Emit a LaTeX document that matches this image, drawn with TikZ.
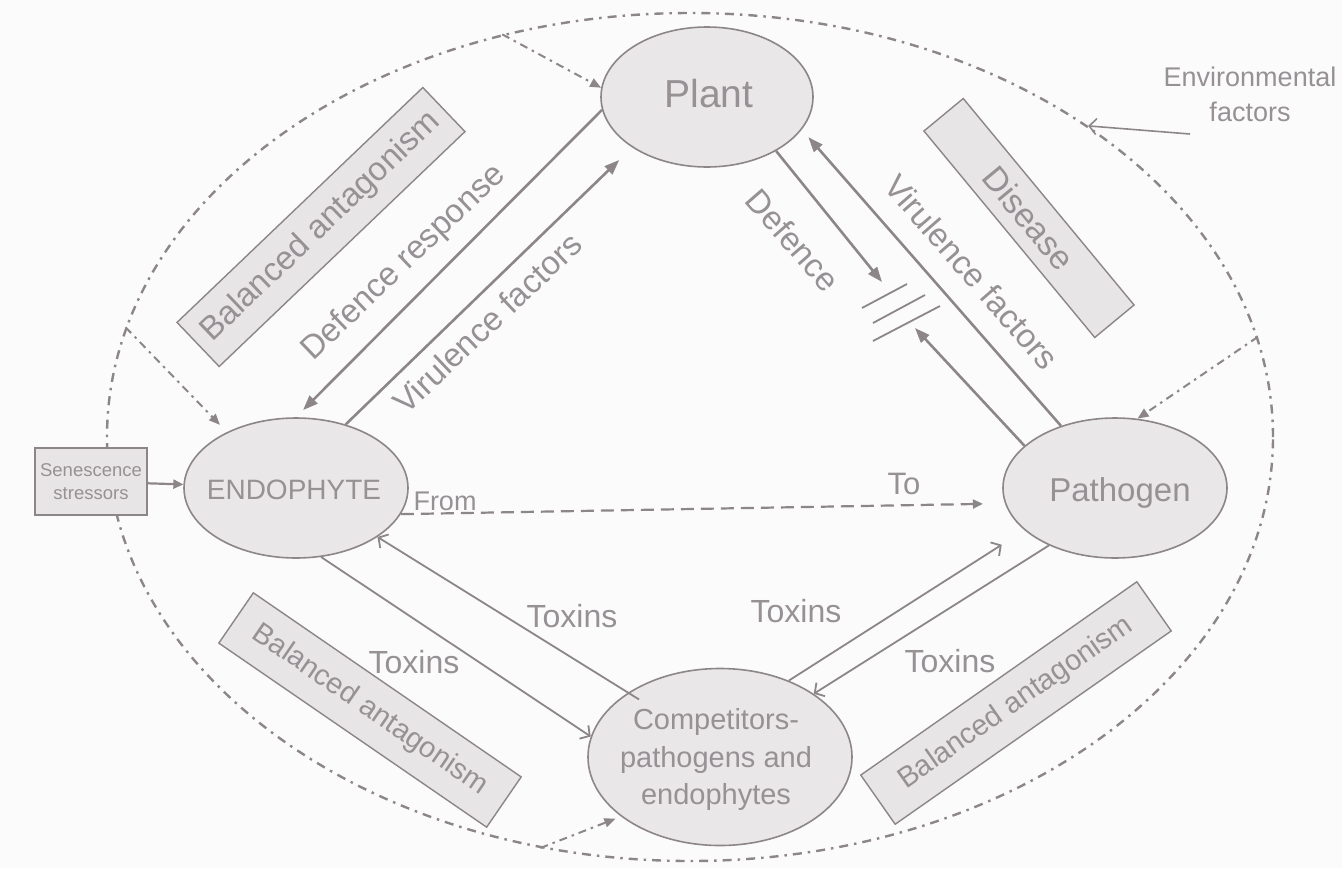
\documentclass[tikz,border=0pt]{standalone}
\usepackage{fontspec}
\setmainfont{Liberation Sans}
\usetikzlibrary{shapes.geometric,arrows.meta}
\definecolor{ink}{RGB}{140,134,137}
\definecolor{txt}{RGB}{150,145,148}
\definecolor{blobfill}{RGB}{233,231,232}
\definecolor{boxfill}{RGB}{231,229,230}
\definecolor{paper}{RGB}{252,251,252}
\newcommand{\fs}[1]{\fontsize{#1}{#1}\selectfont}

\begin{document}
\begin{tikzpicture}[x=1pt,y=-1pt,
  blob/.style={ellipse, draw=ink, fill=blobfill, line width=1.6pt, inner sep=0pt},
  tag/.style={draw=ink, fill=boxfill, line width=1.4pt, inner sep=0pt, text=txt},
  lab/.style={text=txt, inner sep=0pt},
  main/.style={draw=ink, line width=2.6pt, -{Triangle[length=15pt,width=11pt]}},
  tox/.style={draw=ink, line width=1.8pt, -{Straight Barb[length=7pt,width=16pt,line width=1.8pt]}},
  envline/.style={draw=ink, line width=2.4pt, dash pattern=on 9pt off 6pt on 2.5pt off 6pt},
  infl/.style={draw=ink, line width=2pt, dash pattern=on 8pt off 5pt on 2.5pt off 5pt, -{Triangle[length=11pt,width=9pt]}},
  flow/.style={draw=ink, line width=2.2pt, dash pattern=on 13pt off 7pt, -{Triangle[length=10pt,width=9pt]}},
]
\fill[paper] (0,0) rectangle (1342,868);
\useasboundingbox (0,0) rectangle (1342,868);

% environment boundary
\node[ellipse, envline, minimum width=1166pt, minimum height=848pt, inner sep=0pt] (world) at (690,437) {};

% main actors
\node[blob, minimum width=212pt, minimum height=140pt] (plant) at (707,97) {};
\node[blob, minimum width=224pt, minimum height=140pt] (endo) at (296,488) {};
\node[blob, minimum width=224pt, minimum height=140pt] (path) at (1115,488) {};
\node[blob, minimum width=264pt, minimum height=177pt] (comp) at (720,757) {};
\node[lab, font=\fs{39}] (plantname) at (709,94) {Plant};
\node[lab, font=\fs{28}] (endoname) at (294,490) {ENDOPHYTE};
\node[lab, font=\fs{33}] (pathname) at (1120,493) {Pathogen};
\node[lab, align=center, font=\fontsize{29}{37.5}\selectfont] (compname) at (716,759.5) {Competitors-\\pathogens and\\endophytes};

\node[tag, minimum width=112pt, minimum height=67pt, align=center, font=\fontsize{18.5}{23}\selectfont] (sen) at (91,481.5) {Senescence\\stressors};

% rotated outcome boxes
\node[tag, rotate=43.7, minimum width=340pt, minimum height=61pt, font=\fs{33}] (bal1) at (321,227) {Balanced antagonism};
\node[tag, rotate=-50.4, minimum width=268pt, minimum height=51pt, font=\fs{34}] (dis) at (1029,218) {Disease};
\node[tag, rotate=-34.5, minimum width=325pt, minimum height=61pt, font=\fs{29}] (bal2) at (370,710) {Balanced antagonism};
\node[tag, rotate=35, minimum width=337pt, minimum height=60pt, font=\fs{29}] (bal3) at (1016,703) {Balanced antagonism};

% plant -- endophyte
\draw[main, shorten >=10pt] (plant.187) -- (endo.90);
\draw[main, shorten >=18pt] (endo.52) -- (plant.214);
\node[lab, rotate=43.7, font=\fs{33}] (ldr) at (404,263) {Defence response};
\node[lab, rotate=43.5, font=\fs{33}] (lvf1) at (487,323) {Virulence factors};

% plant -- pathogen
\coordinate (dtip) at (882,282);
\coordinate (btip) at (915,328);
\draw[main] (plant.322) -- (dtip);
\draw[main] (path.155) -- (btip);
\draw[ink, line width=1.8pt] (862,308) -- (907,284) (873,323) -- (925,295) (873,341) -- (940,306);
\draw[main, shorten >=10pt] (path.131) -- (plant.341);
\node[lab, rotate=-49, font=\fs{33}] (ldef) at (793,240) {Defence};
\node[lab, rotate=-49, font=\fs{33}] (lvf2) at (972,272) {Virulence factors};

% endophyte -> pathogen
\draw[flow, shorten >=22pt] (endo.346.6) -- (path.188);
\node[lab, font=\fs{27}] (lfrom) at (445,501) {From};
\node[lab, font=\fs{31}] (lto) at (904,484) {To};

% toxins
\draw[tox] (endo.290) -- (comp.171);
\draw[tox, shorten <=-13pt] (comp.145) -- (endo.329.4);
\draw[tox, shorten >=27pt] (comp.48.5) -- (path.205.3);
\draw[tox] (path.221.5) -- (comp.34);
\node[lab, font=\fs{32}] (t1) at (572,616) {Toxins};
\node[lab, font=\fs{32}] (t2) at (414,662) {Toxins};
\node[lab, font=\fs{32}] (t3) at (796,611) {Toxins};
\node[lab, font=\fs{32}] (t4) at (950,661) {Toxins};

% stressors
\draw[draw=ink, line width=2.2pt, -{Triangle[length=10pt,width=9pt]}] (sen) -- (endo);

% environmental influence
\draw[infl] (world.115.3) -- (plant.175);
\draw[infl, shorten >=10pt] (world.169.2) -- (endo.141.4);
\draw[infl] (world.10.7) -- (path.72.9);
\draw[infl, shorten >=6pt] (world.250.9) -- (comp.211.8);

\node[lab, align=center, font=\fontsize{27}{35}\selectfont] (envtxt) at (1250,94) {Environmental\\factors};
\coordinate (envtail) at (1190,134);
\draw[draw=ink, line width=1.6pt, -{Straight Barb[length=7pt,width=16pt,line width=1.6pt]}] (envtail) -- (world.38.1);
\end{tikzpicture}
\end{document}
